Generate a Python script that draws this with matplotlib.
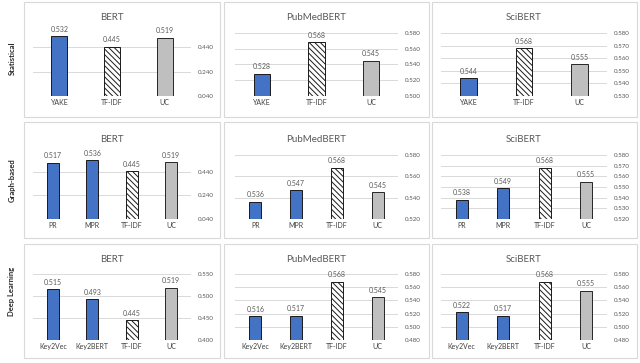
import matplotlib
matplotlib.use("Agg")
import matplotlib.pyplot as plt
from matplotlib.patches import Rectangle

plt.rcParams["font.family"] = ["Lato", "DejaVu Sans"]
plt.rcParams["hatch.linewidth"] = 0.7

# ── data ─────────────────────────────────────────────────────────────────────
rows = ["Statistical", "Graph-based", "Deep Learning"]
models = ["BERT", "PubMedBERT", "SciBERT"]

stat_labels = ["YAKE", "TF-IDF", "UC"]
stat_bert = [0.532, 0.445, 0.519]
stat_pubmed = [0.528, 0.568, 0.545]
stat_sci = [0.544, 0.568, 0.555]

graph_labels = ["PR", "MPR", "TF-IDF", "UC"]
graph_bert = [0.517, 0.536, 0.445, 0.519]
graph_pubmed = [0.536, 0.547, 0.568, 0.545]
graph_sci = [0.538, 0.549, 0.568, 0.555]

deep_labels = ["Key2Vec", "Key2BERT", "TF-IDF", "UC"]
deep_bert = [0.515, 0.493, 0.445, 0.519]
deep_pubmed = [0.516, 0.517, 0.568, 0.545]
deep_sci = [0.522, 0.517, 0.568, 0.555]

# y ticks of every panel (row, col)
stat_ticks = [[0.04, 0.24, 0.44], [0.50, 0.52, 0.54, 0.56, 0.58],
              [0.53, 0.54, 0.55, 0.56, 0.57, 0.58]]
graph_ticks = [[0.04, 0.24, 0.44], [0.52, 0.54, 0.56, 0.58],
               [0.52, 0.53, 0.54, 0.55, 0.56, 0.57, 0.58]]
deep_ticks = [[0.40, 0.45, 0.50, 0.55], [0.48, 0.50, 0.52, 0.54, 0.56, 0.58],
              [0.48, 0.50, 0.52, 0.54, 0.56, 0.58]]
bert_top = [0.557, 0.582, 0.55]

grid = [
    (stat_labels, [stat_bert, stat_pubmed, stat_sci], stat_ticks),
    (graph_labels, [graph_bert, graph_pubmed, graph_sci], graph_ticks),
    (deep_labels, [deep_bert, deep_pubmed, deep_sci], deep_ticks),
]

BLUE = "#4472C4"
GRAY = "#BFBFBF"
GRID = "#D9D9D9"
TXT = "#595959"

W, H = 640, 363
fig = plt.figure(figsize=(W / 100, H / 100), dpi=100)

col_x = [(33, 191), (235, 398), (441, 607)]
row_y = [(33, 96), (155, 219), (274, 340)]
box_x = [(24, 220), (224, 429), (432, 637)]
box_y = [(2, 117), (122, 238), (244, 358)]
label_y = [58, 180, 291]


def px_rect(x0, x1, y0, y1):
    return [x0 / W, 1 - y1 / H, (x1 - x0) / W, (y1 - y0) / H]


for r, (labels, series, ticks) in enumerate(grid):
    fig.text(12 / W, 1 - label_y[r] / H, rows[r], rotation=90, ha="center",
             va="center", fontsize=5.5, fontweight="bold", color="#262626")
    for c in range(3):
        bx, by = box_x[c], box_y[r]
        fig.add_artist(Rectangle((bx[0] / W, 1 - by[1] / H),
                                 (bx[1] - bx[0]) / W, (by[1] - by[0]) / H,
                                 transform=fig.transFigure, fill=False,
                                 edgecolor=GRID, linewidth=0.8))
        ax = fig.add_axes(px_rect(*col_x[c], *row_y[r]))
        vals = series[c]
        xs = range(len(labels))
        for x, lab, v in zip(xs, labels, vals):
            if lab == "TF-IDF":
                ax.bar(x, v, width=0.3, color="white", edgecolor="#1a1a1a",
                       hatch="\\" * 6, linewidth=0.7, zorder=3)
            elif lab == "UC":
                ax.bar(x, v, width=0.3, color=GRAY, edgecolor="#262626",
                       linewidth=0.7, zorder=3)
            else:
                ax.bar(x, v, width=0.3, color=BLUE, edgecolor="#1a1a1a",
                       linewidth=0.7, zorder=3)
            ax.annotate(f"{v:.3f}", (x, v), xytext=(0, 2.5),
                        textcoords="offset points", ha="center", va="bottom",
                        fontsize=5, color=TXT)
        t = ticks[c]
        top = bert_top[r] if c == 0 else t[-1]
        ax.set_ylim(t[0], top)
        ax.set_xlim(-0.5, len(labels) - 0.5)
        ax.set_yticks(t)
        ax.set_yticklabels([f"{v:.3f}" for v in t], fontsize=4.5, color=TXT)
        ax.yaxis.tick_right()
        ax.set_xticks(list(xs))
        ax.set_xticklabels(labels, fontsize=5, color="#404040")
        ax.tick_params(length=0, pad=2)
        ax.tick_params(axis="y", pad=5)
        for s in ax.spines.values():
            s.set_visible(False)
        for v in t:
            ax.axhline(v, color=GRID, linewidth=0.7, zorder=0)
        ax.set_title(models[c], fontsize=7, color=TXT, pad=9)

fig.savefig("out.png", dpi=100)
